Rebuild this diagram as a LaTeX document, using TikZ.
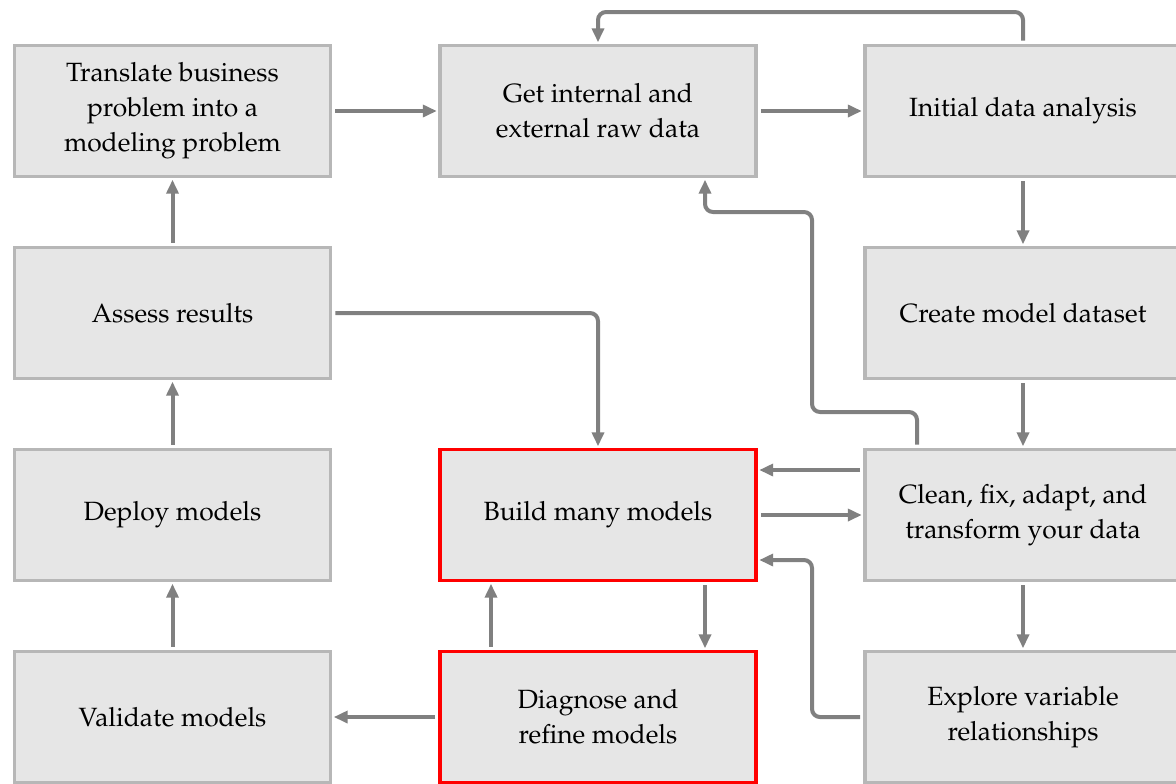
\documentclass[tikz,border=0pt]{standalone}
\usepackage[T1]{fontenc}
\usepackage{mathpazo}
\usetikzlibrary{arrows.meta}
\definecolor{boxfill}{HTML}{E6E6E6}
\definecolor{boxline}{HTML}{B7B7B7}
\definecolor{arr}{HTML}{808080}
\definecolor{hot}{HTML}{FF0000}
\tikzset{
  stepbox/.style={draw=boxline, fill=boxfill, line width=2.4pt, rectangle,
    minimum width=237pt, minimum height=98.25pt, inner sep=0pt, align=center,
    font=\fontsize{19.8}{26.25}\selectfont},
  hotbox/.style={stepbox, draw=hot},
  conn/.style={draw=arr, line width=3pt, rounded corners=6pt,
    -{Triangle[length=10.5pt,width=9pt]}, shorten >=1.2pt, shorten <=2.5pt}
}
\begin{document}
\begin{tikzpicture}[x=0.75pt,y=-0.75pt]
\useasboundingbox (0,0) rectangle (1176,783);
\node[stepbox] (trans) at (172.5,111) {Translate business\\problem into a\\modeling problem};
\node[stepbox] (get) at (598,111) {Get internal and\\external raw data};
\node[stepbox] (init) at (1023,111) {Initial data analysis};
\node[stepbox] (assess) at (172.5,313) {Assess results};
\node[stepbox] (create) at (1023,313) {Create model dataset};
\node[stepbox] (deploy) at (172.5,515) {Deploy models};
\node[hotbox] (build) at (598,515) {Build many models};
\node[stepbox] (clean) at (1023,515) {Clean, fix, adapt, and\\transform your data};
\node[stepbox] (valid) at (172.5,717) {Validate models};
\node[hotbox] (diag) at (598,717) {Diagnose and\\refine models};
\node[stepbox] (explore) at (1023,717) {Explore variable\\relationships};

\coordinate (toprow) at (0,12);
\coordinate (c412) at (0,412);
\coordinate (c212) at (0,212);
\coordinate (x812) at (812,0);
\coordinate (x705) at (705,0);

\draw[conn] (trans) -- (get);
\draw[conn] (get) -- (init);
\draw[conn] (init.north) -- (init.north |- toprow) -| (get.north);
\draw[conn] (init) -- (create);
\draw[conn] (create) -- (clean);
\draw[conn] ([xshift=-79.5pt]clean.north) -- ([xshift=-79.5pt]clean.north |- c412) -- (x812 |- c412) -- (x812 |- c212) -- (x705 |- c212) -- (x705 |- get.south);
\draw[conn] ([yshift=33.75pt]clean.west) -- ([yshift=33.75pt]build.east);
\draw[conn] (build) -- (clean);
\draw[conn] (explore.west) -- (x812 |- explore.west) -- (x812 |- 0,560) -- ([yshift=-33.75pt]build.east);
\draw[conn] (clean) -- (explore);
\draw[conn] (x705 |- build.south) -- (x705 |- diag.north);
\draw[conn] ([xshift=-80.25pt]diag.north) -- ([xshift=-80.25pt]build.south);
\draw[conn] (diag) -- (valid);
\draw[conn] (valid) -- (deploy);
\draw[conn] (deploy) -- (assess);
\draw[conn] (assess) -- (trans);
\draw[conn] (assess.east) -| (build.north);
\end{tikzpicture}
\end{document}
